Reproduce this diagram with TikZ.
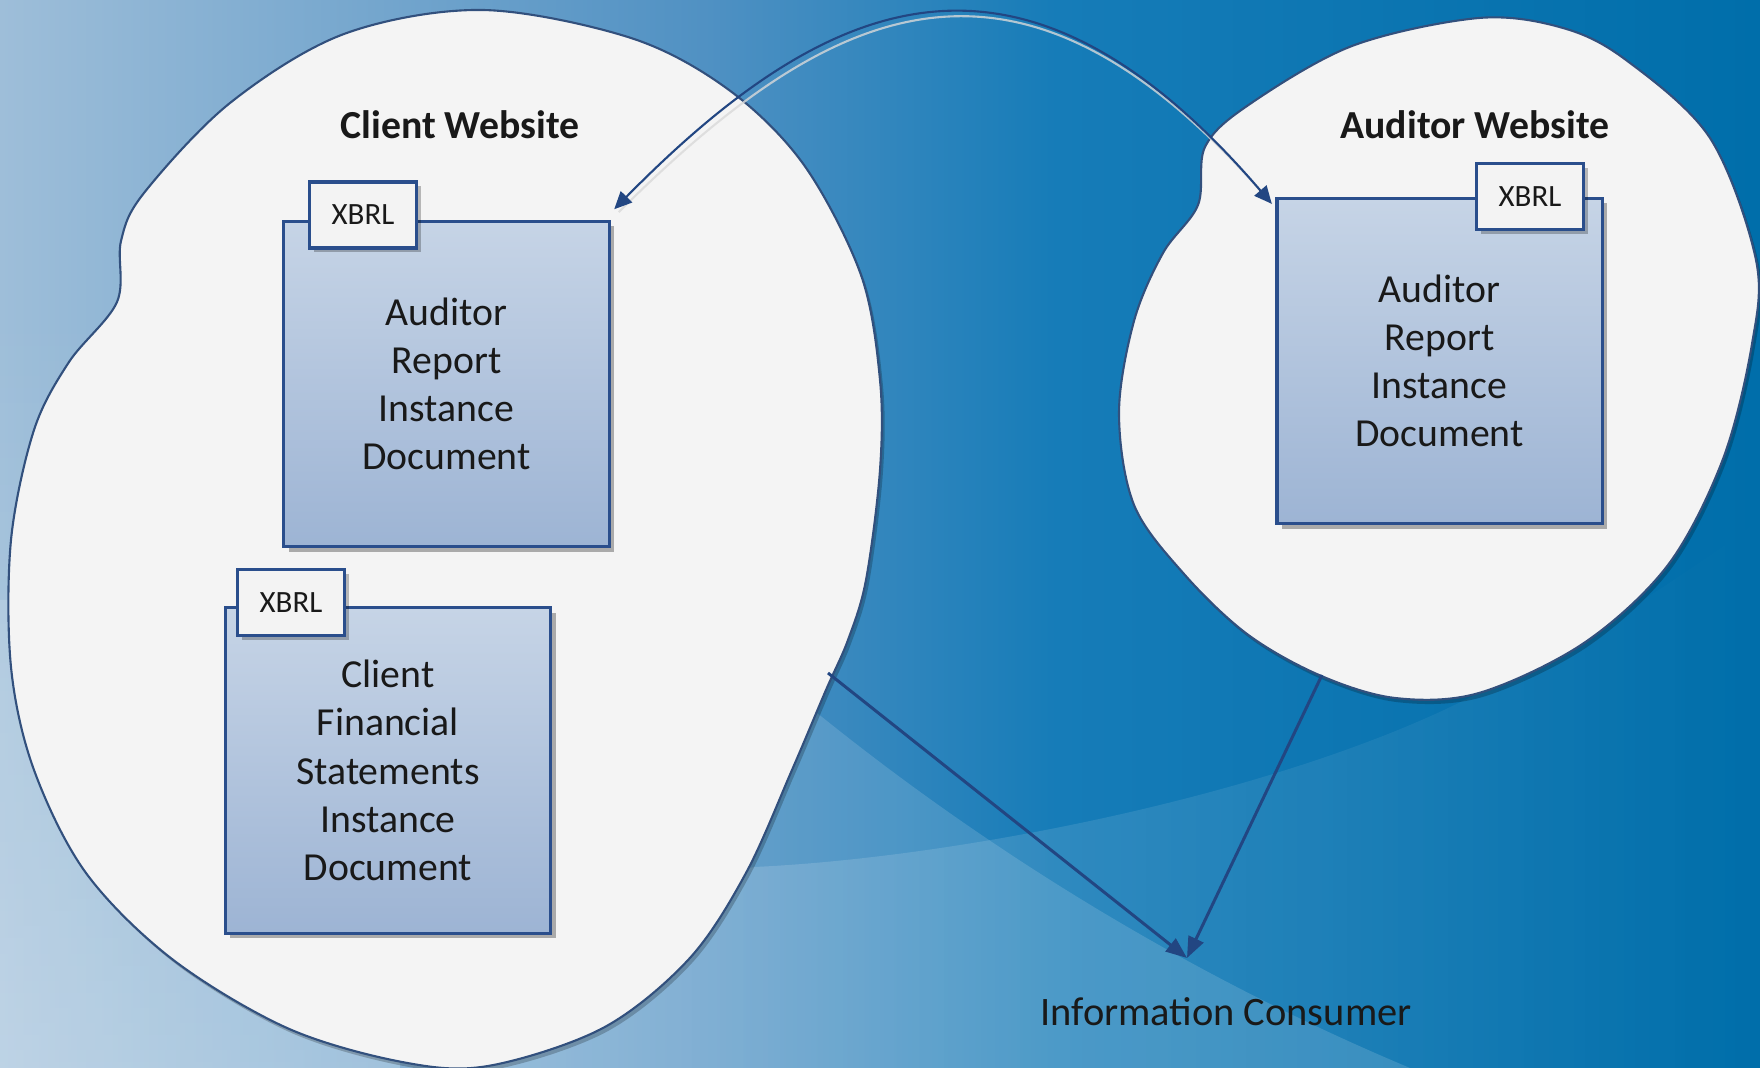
\documentclass[tikz,border=0pt]{standalone}
\usepackage{fontspec}
\setmainfont{Carlito}
\usetikzlibrary{arrows.meta,shadows,fadings}
\definecolor{bgA}{RGB}{158,190,217}
\definecolor{bgB}{RGB}{80,145,195}
\definecolor{bgC}{RGB}{22,124,184}
\definecolor{bgD}{RGB}{0,110,170}
\definecolor{blobfill}{RGB}{244,244,244}
\definecolor{blobline}{RGB}{50,80,125}
\definecolor{boxline}{RGB}{42,78,140}
\definecolor{boxtop}{RGB}{198,212,230}
\definecolor{boxbot}{RGB}{157,180,212}
\definecolor{tabfill}{RGB}{243,243,243}
\definecolor{txt}{RGB}{25,25,25}
\definecolor{arrowc}{RGB}{34,70,130}
\pgfdeclarehorizontalshading{bgshade}{100bp}{color(0bp)=(bgA); color(25bp)=(bgA); color(45bp)=(bgB); color(55bp)=(bgC); color(75bp)=(bgD); color(100bp)=(bgD)}
\tikzset{
  blob/.style={draw=blobline, line width=0.6pt, fill=blobfill,
    drop shadow={shadow xshift=0.8pt, shadow yshift=-1.2pt, fill=black, opacity=0.22}},
  docbox/.style={draw=boxline, line width=0.9pt, top color=boxtop, bottom color=boxbot,
    minimum width=3.25cm, minimum height=3.25cm, align=center, inner sep=0pt,
    font=\fontsize{11.3}{13.7}\selectfont, text=txt,
    drop shadow={shadow xshift=1.4pt, shadow yshift=-1.4pt, fill=black, opacity=0.3}},
  tabbox/.style={draw=boxline, line width=0.9pt, fill=tabfill,
    minimum width=1.07cm, minimum height=0.66cm, inner sep=0pt,
    font=\fontsize{8.8}{10}\selectfont, text=txt,
    drop shadow={shadow xshift=1.2pt, shadow yshift=-1.2pt, fill=black, opacity=0.25}},
  titletext/.style={font=\bfseries\fontsize{11.3}{13.7}\selectfont, text=txt},
  plaintext/.style={font=\fontsize{11.5}{13.7}\selectfont, text=txt},
  flow/.style={draw=arrowc, line width=0.85pt, -{Triangle[length=6pt,width=4.6pt]}},
  linkarc/.style={draw=arrowc, line width=0.6pt, {Triangle[length=5pt,width=4.5pt]}-{Triangle[length=5pt,width=4.5pt]}}
}
\begin{document}
\begin{tikzpicture}[x=0.01cm,y=-0.01cm]
\useasboundingbox (0,0) rectangle (1760,1068);
% background
\shade[shading=bgshade] (0,0) rectangle (1760,1068);
\fill[white, fill opacity=0.22, path fading=north] (0,300) rectangle (400,1068);
\fill[white, fill opacity=0.2, path fading=east] (480,1068) -- (700,880) -- (754,867) .. controls (950,858) and (1250,800) .. (1444,710)
  .. controls (1550,660) and (1650,600) .. (1760,520) -- (1760,1068) -- cycle;
\fill[white, opacity=0.14] (0,1068) -- (0,600) .. controls (400,600) and (700,620) .. (822,717)
  .. controls (1000,860) and (1200,980) .. (1410,1068) -- cycle;
% client website blob
\path[blob] plot[smooth cycle, tension=0.55] coordinates {
 (482,10) (631,38) (729,90) (804,165) (861,275) (880,380) (880,470) (866,580)
 (848,640) (826,690) (792,770) (746,873) (689,959) (603,1028) (488,1066) (402,1062) (287,1028)
 (172,959) (86,873) (34,770) (11,667) (11,540) (34,430) (69,362) (117,302)
 (121,241) (144,193) (230,103) (344,34)};
% auditor website blob
\path[blob] plot[smooth cycle, tension=0.55] coordinates {
 (1479,18) (1563,28) (1626,60) (1710,138) (1756,260) (1752,344) (1723,459)
 (1668,565) (1584,643) (1479,693) (1395,698) (1319,675) (1247,634) (1184,574)
 (1134,505) (1119,413) (1134,321) (1163,253) (1198,205) (1205,147) (1247,106) (1352,46)};
% titles
\node[titletext] (cwt) at (460,125) {Client Website};
\node[titletext] (awt) at (1475,125) {Auditor Website};
\node[plaintext] (ic) at (1226,1012) {Information Consumer};
% documents
\node[docbox] (b1) at (446.5,384) {Auditor\\Report\\Instance\\Document};
\node[tabbox] (t1) at (363,215) {XBRL};
\node[docbox] (b2) at (388,770.5) {Client\\Financial\\Statements\\Instance\\Document};
\node[tabbox] (t2) at (291,602.5) {XBRL};
\node[docbox] (b3) at (1439.5,361) {Auditor\\Report\\Instance\\Document};
\node[tabbox] (t3) at (1530,196.5) {XBRL};
% link arc
\coordinate (a1) at ([xshift=1pt,yshift=3pt]b1.north east);
\coordinate (a3) at ([xshift=-1pt,yshift=-2pt]b3.north west);
\draw[white!70!gray, line width=0.6pt, opacity=0.8] ([xshift=1.3pt,yshift=-0.8pt]a1) .. controls (840,-8) and (1025,-84) .. (a3);
\draw[linkarc] (a1) .. controls (834,-14) and (1025,-84) .. (a3);
% flows to information consumer
\coordinate (cwout) at (828,673);
\coordinate (awout) at (1322,675);
\coordinate (icin) at (1187,958);
\draw[flow] (cwout) -- (icin);
\draw[flow] (awout) -- (icin);
\end{tikzpicture}
\end{document}
